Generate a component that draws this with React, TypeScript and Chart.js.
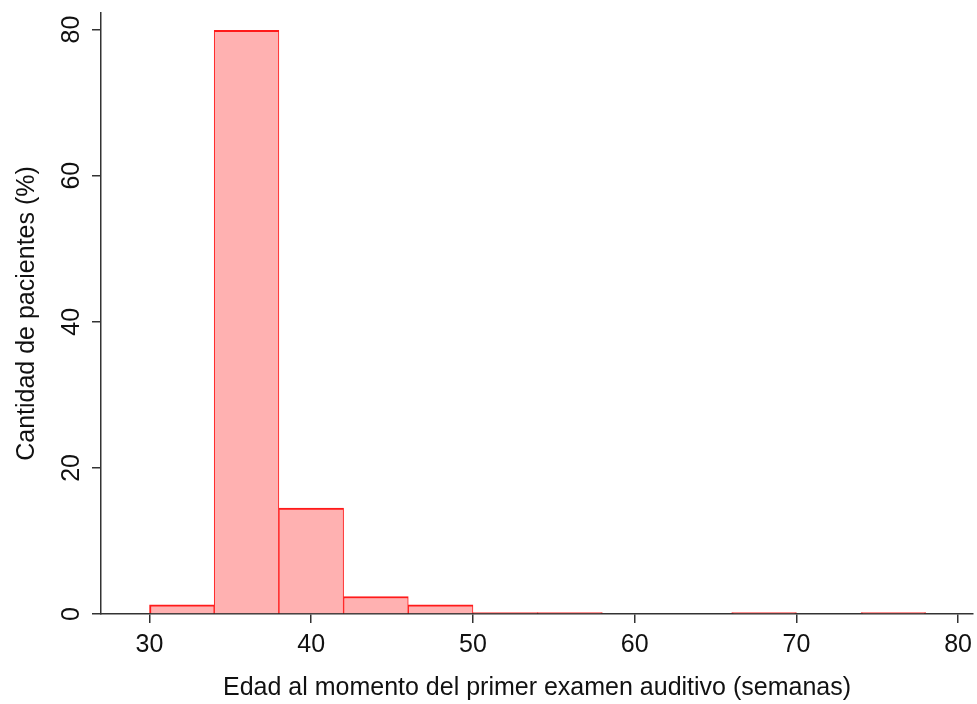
import React, { useEffect, useRef } from 'react';
import { Chart, registerables } from 'chart.js';

Chart.register(...registerables);

// Histogram bins (weeks) and their share of patients (%)
const binStarts = [30, 34, 38, 42, 46, 50, 54, 58, 62, 66, 70, 74];
const binWidth = 4;
const percentages = [1.27, 79.9, 14.5, 2.4, 1.27, 0.21, 0.21, 0, 0, 0.21, 0, 0.21];

const xTicks = [30, 40, 50, 60, 70, 80];
const yTicks = [0, 20, 40, 60, 80];

const xTitle = 'Edad al momento del primer examen auditivo (semanas)';
const yTitle = 'Cantidad de pacientes (%)';

export default function App() {
  const ref = useRef<HTMLCanvasElement>(null);

  useEffect(() => {
    const font = { family: "'Liberation Sans', Arial, sans-serif", size: 25 };
    const textColor = '#111111';
    const axisColor = '#333333';
    const data = binStarts.map((s, i) => ({ x: s + binWidth / 2, y: percentages[i] }));

    const chart = new Chart(ref.current as HTMLCanvasElement, {
      type: 'bar',
      data: {
        datasets: [
          {
            data,
            backgroundColor: '#ffb1b1',
            borderColor: '#ff1a1a',
            borderWidth: (c: any) => {
              const i = c.dataIndex;
              const prev = i > 0 ? percentages[i - 1] : 0;
              const next = i < percentages.length - 1 ? percentages[i + 1] : 0;
              return { top: 2, bottom: 0, left: prev > 0 ? 1 : 2, right: next > 0 ? 1 : 2 };
            },
            borderSkipped: 'start',
            barPercentage: 1,
            categoryPercentage: 1,
          },
        ],
      },
      options: {
        responsive: false,
        animation: false,
        layout: { padding: { top: 13, right: 4, left: 0, bottom: 0 } },
        plugins: { legend: { display: false }, tooltip: { enabled: false } },
        scales: {
          x: {
            type: 'linear',
            min: 27,
            max: 80.92,
            offset: false,
            afterBuildTicks: (s: any) => {
              s.ticks = xTicks.map((v) => ({ value: v }));
            },
            afterFit: (s: any) => {
              s.height = 90;
              s.paddingLeft = 0;
              s.paddingRight = 0;
            },
            grid: {
              display: true,
              offset: false,
              drawOnChartArea: false,
              drawTicks: true,
              tickLength: 9,
              color: axisColor,
              lineWidth: 1.5,
            },
            border: { display: true, color: axisColor, width: 1.5 },
            ticks: { font, color: textColor, padding: 7, minRotation: 0, maxRotation: 0, autoSkip: false },
            title: { display: true, text: xTitle, font, color: textColor, padding: { top: 0, bottom: 1 } },
          },
          y: {
            type: 'linear',
            min: 0,
            max: 82.26,
            afterBuildTicks: (s: any) => {
              s.ticks = yTicks.map((v) => ({ value: v }));
            },
            afterFit: (s: any) => {
              s.width = 101;
              s.paddingTop = 0;
              s.paddingBottom = 0;
            },
            grid: {
              display: true,
              drawOnChartArea: false,
              drawTicks: true,
              tickLength: 9,
              color: axisColor,
              lineWidth: 1.5,
            },
            border: { display: true, color: axisColor, width: 1.5 },
            ticks: {
              font,
              color: textColor,
              padding: 6,
              minRotation: 90,
              maxRotation: 90,
              crossAlign: 'center',
              autoSkip: false,
            },
            title: { display: true, text: yTitle, font, color: textColor, padding: { top: 12, bottom: 0 } },
          },
        },
      },
    } as any);

    return () => chart.destroy();
  }, []);

  return (
    <div style={{ position: 'absolute', left: 0, top: 0, width: 977, height: 704, background: '#ffffff' }}>
      <canvas ref={ref} width={977} height={704} style={{ display: 'block' }} />
    </div>
  );
}
